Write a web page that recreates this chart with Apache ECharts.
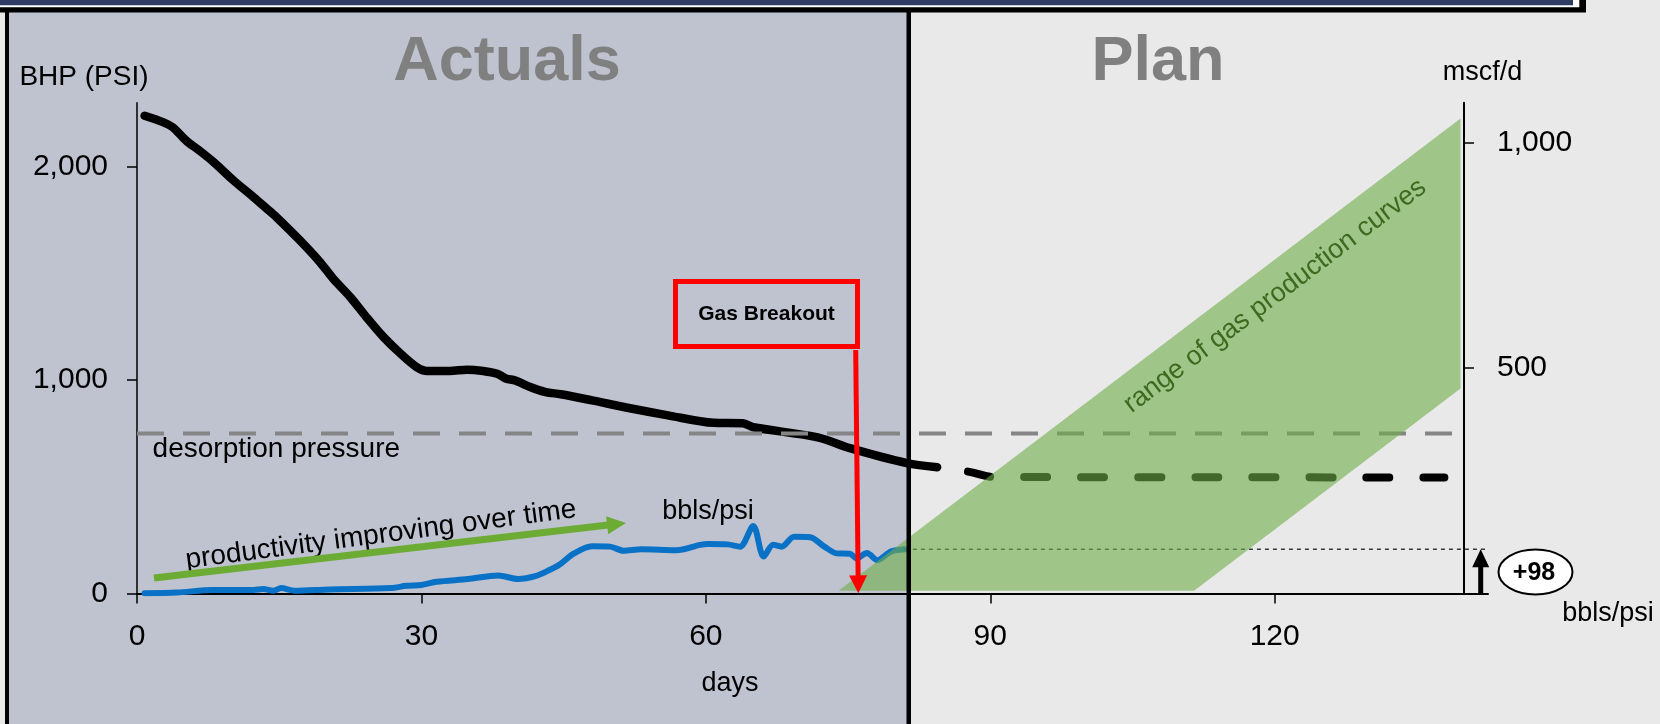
<!DOCTYPE html>
<html><head><meta charset="utf-8">
<script src="https://cdn.jsdelivr.net/npm/echarts@6/dist/echarts.min.js"></script>
<style>html,body{margin:0;padding:0;background:#e9e9e9}#c{width:1660px;height:724px}</style>
</head><body><div id="c"></div>
<script>
// ---- data ----
const xTicks = [0, 30, 60, 90, 120];
const bhpTicks = [0, 1000, 2000];
const gasTicks = [500, 1000];

const bhpDays = [0.8, 2.8, 3.8, 5.2, 6.6, 8.1, 10.2, 12.3, 13.7, 14.7, 17.2, 19.3, 20.7, 22.5, 24.2, 26.0, 27.8, 29.5, 30.6, 33.0, 34.8, 36.5, 38.0, 38.9, 39.9, 41.4, 43.1, 44.7, 48.0, 52.0, 56.0, 60.8, 63.9, 65.0, 71.8, 75.2, 81.2, 84.4];
const bhpPsi  = [2239, 2208, 2184, 2122, 2075, 2021, 1935, 1857, 1803, 1764, 1654, 1553, 1475, 1389, 1295, 1202, 1124, 1061, 1043, 1043, 1049, 1043, 1030, 1008, 998, 969, 944, 934, 905, 868, 835, 800, 798, 779, 732, 681, 611, 592];

const planDays = [84.4, 87.8, 90.5, 137.9];
const planPsi  = [592, 570, 546, 544];

const prodDays = [0.8, 4.2, 8.0, 12.3, 13.3, 14.4, 15.2, 16.6, 20.3, 26.8, 28.4, 30.0, 31.6, 34.9, 38.1, 40.2, 42.1, 43.5, 44.5, 46.1, 48.0, 49.9, 51.3, 53.2, 56.9, 59.4, 60.2, 62.3, 63.6, 65.0, 66.1, 67.1, 68.0, 69.3, 71.0, 72.5, 73.8, 75.2, 75.9, 77.0, 78.1, 79.5, 81.0];
const prodVals = [0.4, 2, 8, 8, 10, 6, 12, 6, 9, 12, 17, 19, 26, 32, 40, 32, 39, 52, 63, 89, 105, 104, 95, 98, 96, 108, 110, 109, 104, 150, 82, 108, 104, 126, 125, 104, 89, 88, 78, 90, 74, 93, 98];

const desorptionDays = [0, 138.7];
const desorptionPsi = [750, 750];

const gainDays = [81, 142.5];
const gainVals = [98, 98];

const bandUpperDays = [74.0, 139.6];
const bandUpperVals = [6, 1054];
const bandLowerDays = [74.0, 111.5, 139.6];
const bandLowerVals = [6, 6, 455];

// ---- helpers ----
const zip = (a, b) => a.map((v, i) => [v, b[i]]);
const FF = '"Liberation Sans", Arial, Helvetica, sans-serif';
const fnt = (s, b) => (b ? 'bold ' : '') + s + 'px ' + FF;

const chart = echarts.init(document.getElementById('c'), null, {renderer: 'canvas'});

function txt(text, x, y, size, opts) {
  opts = opts || {};
  return {
    type: 'text', x: x, y: y, rotation: opts.rot ? opts.rot * Math.PI / 180 : 0, z: opts.z || 30, silent: true,
    style: {text: text, x: 0, y: 0, fill: opts.color || '#000', font: fnt(size, opts.bold),
      textAlign: opts.align || 'center', textVerticalAlign: 'middle'}
  };
}
function arrow(x1, y1, x2, y2, w, headL, headW, color, z) {
  const dx = x2 - x1, dy = y2 - y1, L = Math.hypot(dx, dy), ux = dx / L, uy = dy / L;
  const bx = x2 - ux * headL, by = y2 - uy * headL, px = -uy, py = ux;
  return [
    {type: 'line', z: z, silent: true, shape: {x1: x1, y1: y1, x2: bx + ux, y2: by + uy}, style: {stroke: color, lineWidth: w}},
    {type: 'polygon', z: z, silent: true, shape: {points: [[x2, y2], [bx + px * headW / 2, by + py * headW / 2], [bx - px * headW / 2, by - py * headW / 2]]}, style: {fill: color}}
  ];
}

const graphics = [
  {type: 'rect', z: -20, silent: true, shape: {x: 9, y: 10, width: 899.5, height: 720}, style: {fill: '#BFC3D0'}},
  {type: 'rect', z: -19, silent: true, shape: {x: 5, y: 8, width: 4, height: 720}, style: {fill: '#000'}},
  {type: 'rect', z: 20, silent: true, shape: {x: 906.5, y: 8, width: 4.5, height: 720}, style: {fill: '#000'}},
  {type: 'rect', z: 21, silent: true, shape: {x: -10, y: -10, width: 1596, height: 22.5}, style: {fill: '#000'}},
  {type: 'rect', z: 22, silent: true, shape: {x: -10, y: -10, width: 1589.3, height: 17.3}, style: {fill: '#fff'}},
  {type: 'rect', z: 23, silent: true, shape: {x: -10, y: -10, width: 1583, height: 15.3}, style: {fill: '#2E3C66'}},
  txt('Actuals', 507, 63, 63, {bold: true, color: '#808080'}),
  txt('Plan', 1158, 63, 63, {bold: true, color: '#808080'}),
  txt('BHP (PSI)', 84, 77, 28),
  txt('mscf/d', 1482.5, 73, 27),
  txt('desorption pressure', 152.6, 449, 28, {align: 'left'}),
  txt('productivity improving over time', 381, 535, 28, {rot: 7.5}),
  txt('bbls/psi', 708, 512, 27),
  txt('range of gas production curves', 1275, 296, 27, {rot: 37, color: '#3D6A1F'}),
  txt('days', 730, 684, 27),
  txt('bbls/psi', 1608, 614, 27),
  {type: 'rect', z: 30, silent: true, shape: {x: 675.5, y: 281.5, width: 182, height: 65}, style: {fill: null, stroke: '#FF0000', lineWidth: 5}},
  txt('Gas Breakout', 766.5, 314, 21, {bold: true}),
  {type: 'ellipse', z: 30, silent: true, shape: {cx: 1535.5, cy: 572, rx: 37, ry: 22.5}, style: {fill: '#fff', stroke: '#000', lineWidth: 2}},
  txt('+98', 1534, 573, 25, {bold: true, z: 31})
].concat(
  arrow(855.7, 350, 858.3, 593.3, 5, 18, 18, '#FF0000', 30),
  arrow(1480.7, 594, 1480.7, 549.3, 5, 18, 17, '#000', 30),
  arrow(154, 578, 626, 523, 7, 19, 18, '#6CAC35', 30)
);

const option = {
  animation: false,
  backgroundColor: '#E9E9E9',
  grid: {left: 137, top: 102.7, right: 172, bottom: 130.5, containLabel: false, outerBoundsMode: 'none'},
  xAxis: {
    type: 'value', min: 0, max: 142.5,
    axisLine: {show: true, onZero: false, lineStyle: {color: '#000', width: 2}},
    axisTick: {show: true, customValues: xTicks, length: 10, lineStyle: {color: '#000', width: 1.5}},
    axisLabel: {customValues: xTicks, margin: 28, fontSize: 30, color: '#000', fontFamily: FF},
    splitLine: {show: false}
  },
  yAxis: [
    {
      type: 'value', min: 0, max: 2300, position: 'left',
      axisLine: {show: true, onZero: false, lineStyle: {color: '#000', width: 1.5}},
      axisTick: {show: true, customValues: bhpTicks, length: 10, lineStyle: {color: '#000', width: 1.5}},
      axisLabel: {customValues: bhpTicks, margin: 29, fontSize: 30, color: '#000', fontFamily: FF,
        formatter: v => Number(v).toLocaleString('en-US')},
      splitLine: {show: false}
    },
    {
      type: 'value', min: 0, max: 1089, position: 'right', offset: -24,
      axisLine: {show: true, onZero: false, lineStyle: {color: '#000', width: 2}},
      axisTick: {show: true, customValues: gasTicks, length: 10, lineStyle: {color: '#000', width: 1.5}},
      axisLabel: {customValues: gasTicks, margin: 33, fontSize: 30, color: '#000', fontFamily: FF,
        formatter: v => Number(v).toLocaleString('en-US')},
      splitLine: {show: false}
    }
  ],
  series: [
    {type: 'line', name: 'BHP', xAxisIndex: 0, yAxisIndex: 0, data: zip(bhpDays, bhpPsi), showSymbol: false, smooth: 0.3, z: 2, silent: true,
      lineStyle: {color: '#000', width: 8.5, cap: 'round', join: 'round'}},
    {type: 'line', name: 'BHP plan', xAxisIndex: 0, yAxisIndex: 0, data: zip(planDays, planPsi), showSymbol: false, smooth: 0.4, z: 2, silent: true,
      lineStyle: {color: '#000', width: 8, type: [23, 34], dashOffset: 26, cap: 'round', join: 'round'}},
    {type: 'line', name: 'bbls/psi', xAxisIndex: 0, yAxisIndex: 1, data: zip(prodDays, prodVals), showSymbol: false, smooth: 0.3, z: 2, silent: true,
      lineStyle: {color: '#0A72C6', width: 6, cap: 'round', join: 'round'}},
    {type: 'line', name: 'desorption', xAxisIndex: 0, yAxisIndex: 0, data: zip(desorptionDays, desorptionPsi), showSymbol: false, z: 3, silent: true,
      lineStyle: {color: '#858585', width: 4, type: [27, 19]}},
    {type: 'line', name: 'gain', xAxisIndex: 0, yAxisIndex: 1, data: zip(gainDays, gainVals), showSymbol: false, z: 3, silent: true,
      lineStyle: {color: '#3a3a3a', width: 1.5, type: [4, 4]}},
    {type: 'custom', name: 'gas range', xAxisIndex: 0, yAxisIndex: 1, data: [0], z: 4, silent: true,
      renderItem: function (params, api) {
        const up = zip(bandUpperDays, bandUpperVals).map(p => api.coord(p));
        const lo = zip(bandLowerDays, bandLowerVals).map(p => api.coord(p)).reverse();
        return {type: 'polygon', shape: {points: up.concat(lo)}, style: {fill: '#70AD47', opacity: 0.6}};
      }}
  ],
  graphic: {elements: graphics}
};
chart.setOption(option);
</script></body></html>
